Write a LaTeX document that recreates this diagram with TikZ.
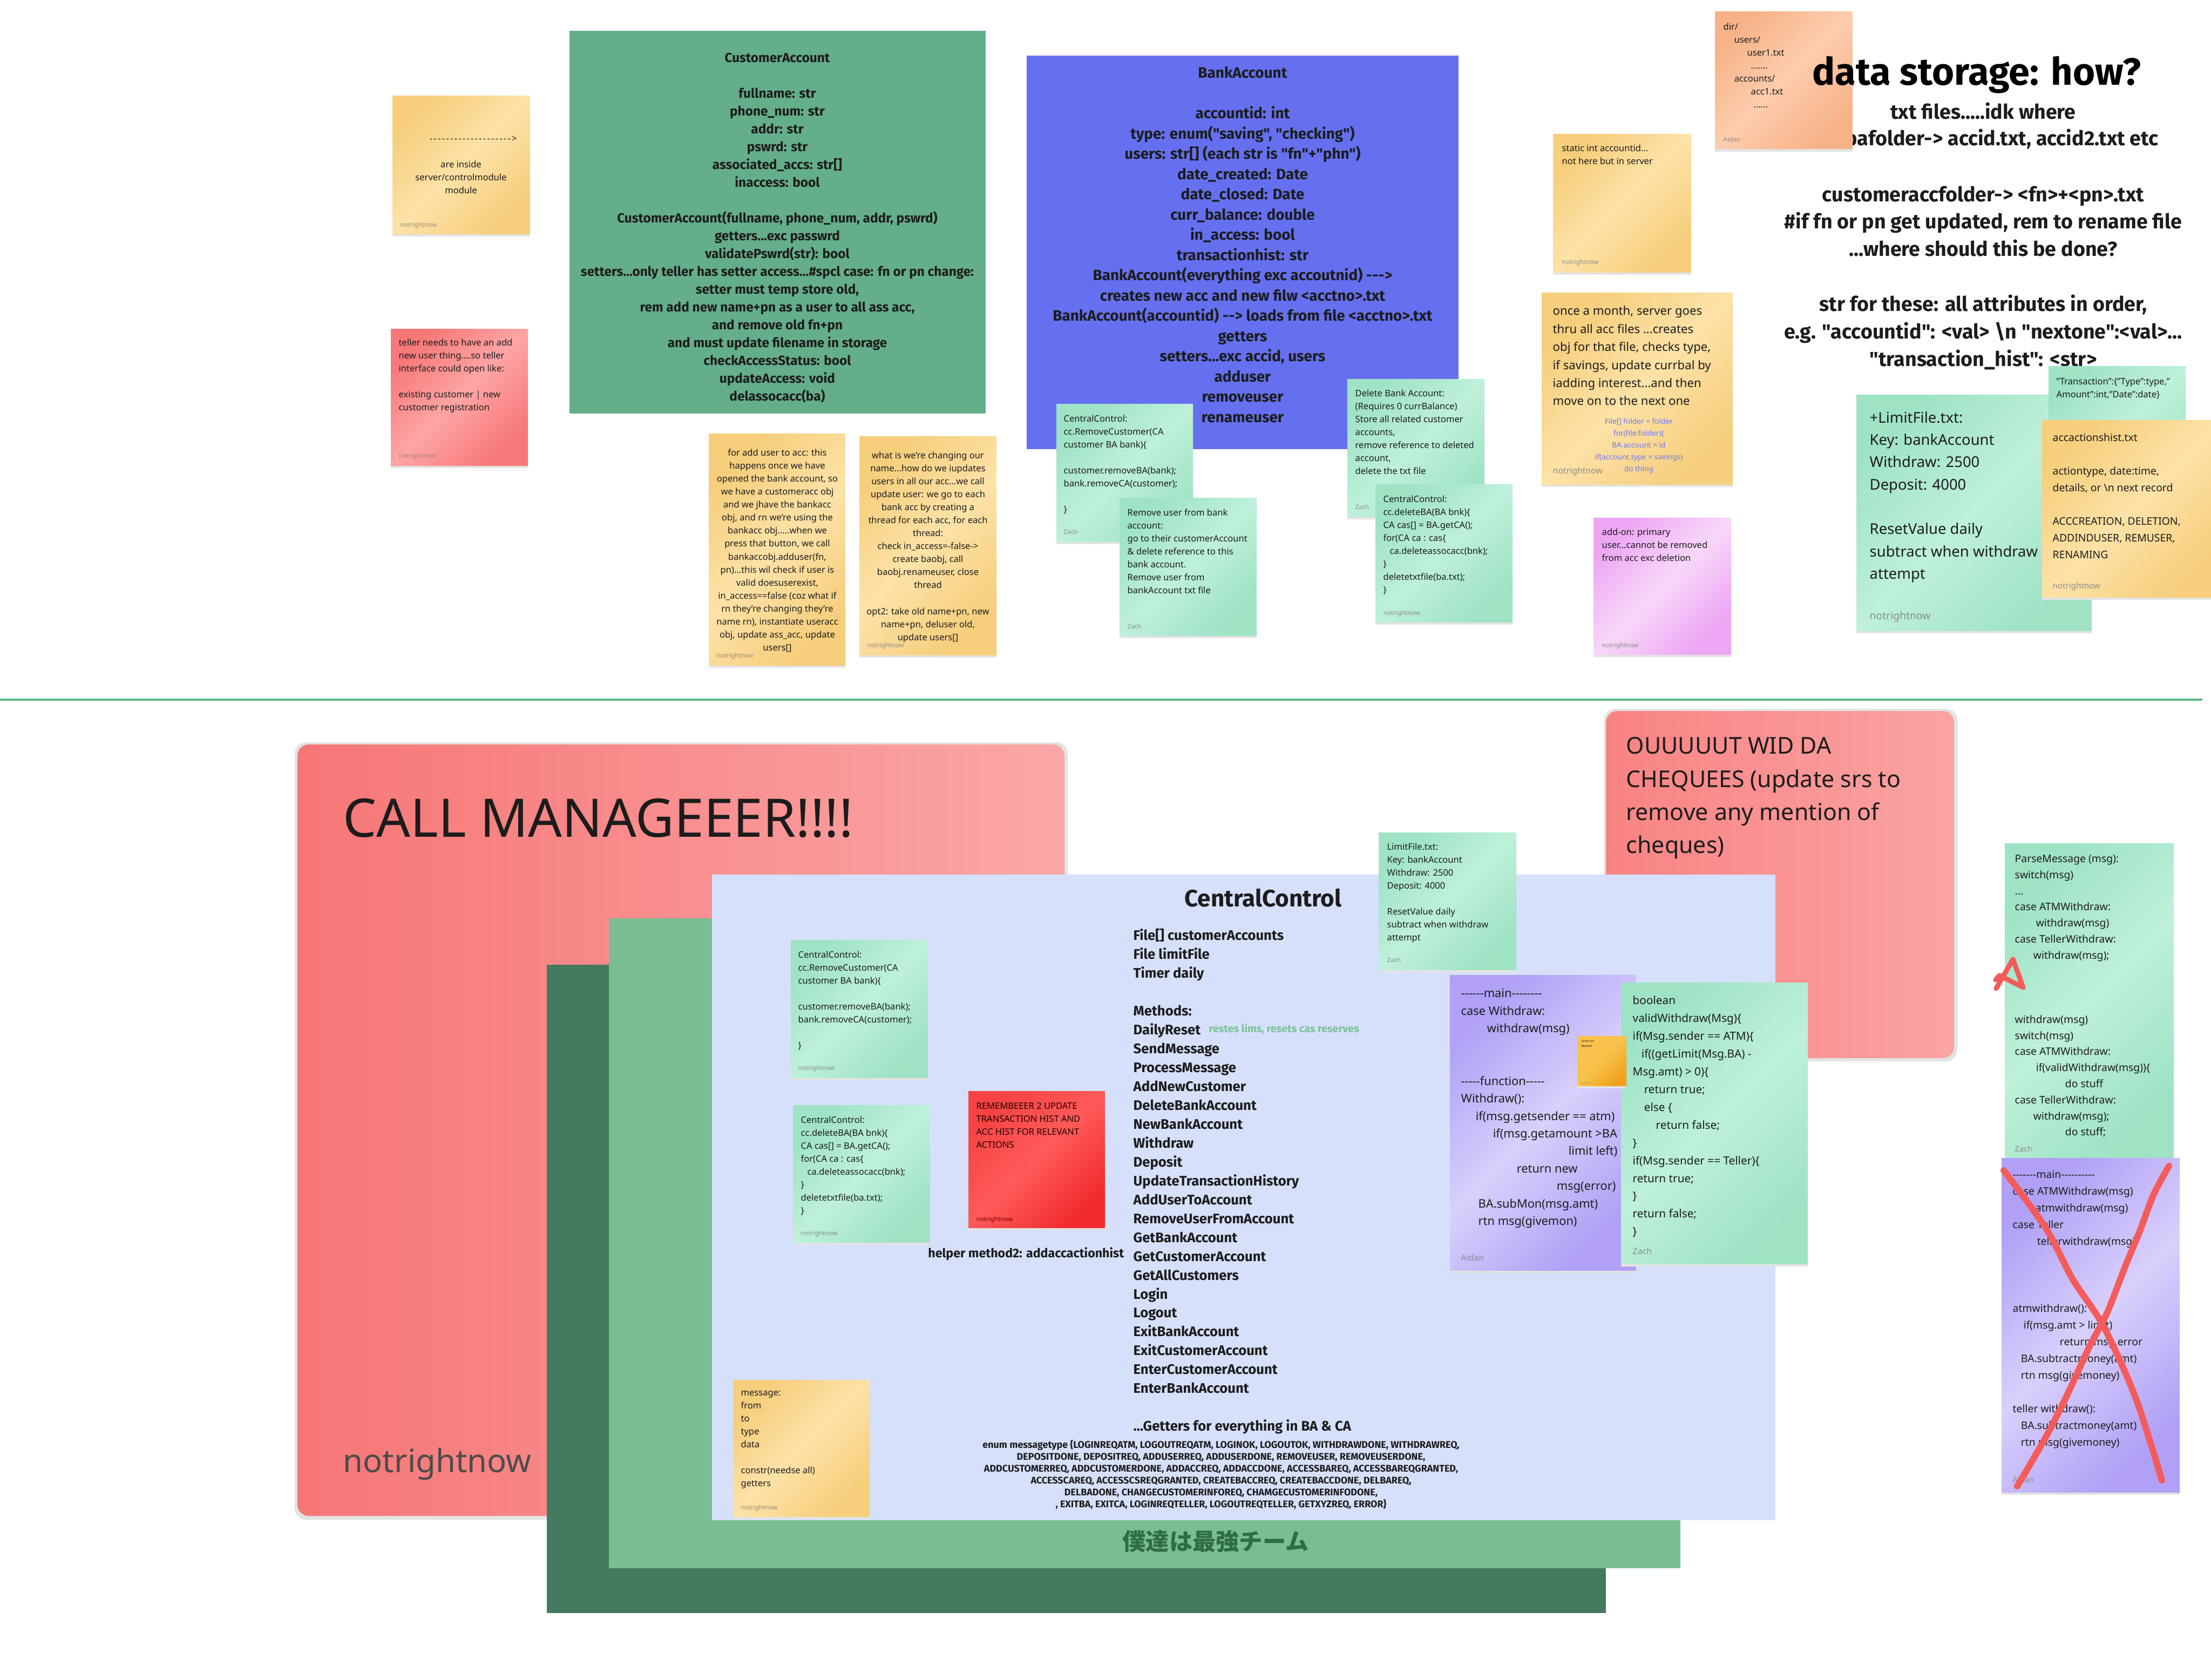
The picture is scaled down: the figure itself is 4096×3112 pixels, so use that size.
\documentclass[tikz,border=0pt]{standalone}
\usepackage{fontspec}
\setmainfont{Noto Sans}
\newfontfamily\hf{Fira Sans}
\newfontfamily\jp{Noto Sans CJK JP}
\usetikzlibrary{shadings}

\definecolor{ink}{HTML}{1C1C1C}
\definecolor{footgrey}{HTML}{8C8C8C}
\definecolor{caGreen}{HTML}{64AE8A}
\definecolor{baBlue}{HTML}{6570F0}
\definecolor{ccBlue}{HTML}{D6E0FB}
\definecolor{midGreen}{HTML}{7BBD92}
\definecolor{darkGreen}{HTML}{447A5E}
\definecolor{lineGreen}{HTML}{5DB886}
\definecolor{jpGreen}{HTML}{2F6D46}
\definecolor{noteShadow}{HTML}{E3E3E3}
\definecolor{codeBlue}{HTML}{6B78F2}
\definecolor{remGreen}{HTML}{7CC29A}
\definecolor{crossRed}{HTML}{F45B5B}
\definecolor{yelA}{HTML}{F6CE7C}\definecolor{yelB}{HTML}{FDE2A7}
\definecolor{grnA}{HTML}{9FE3C5}\definecolor{grnB}{HTML}{BEF0DA}
\definecolor{purA}{HTML}{B1A0F6}\definecolor{purB}{HTML}{D8D0FC}
\definecolor{pnkA}{HTML}{EDA6F3}\definecolor{pnkB}{HTML}{F8D7FA}
\definecolor{orgA}{HTML}{F7B288}\definecolor{orgB}{HTML}{FDCDAD}
\definecolor{redA}{HTML}{F77878}\definecolor{redB}{HTML}{FEA5A5}
\definecolor{hotA}{HTML}{F54343}\definecolor{hotB}{HTML}{FF5A5A}\definecolor{hotC}{HTML}{F22C2C}
\definecolor{ambA}{HTML}{F8C24C}\definecolor{ambB}{HTML}{F0A21E}
\definecolor{bigA}{HTML}{F77676}\definecolor{bigB}{HTML}{FBA7A7}
\definecolor{outA}{HTML}{F98383}\definecolor{outB}{HTML}{FBA3A3}

% diagonal sticky-note gradients: corner colour, centre colour, corner colour
\newcommand\triplesh[4]{\pgfdeclarehorizontalshading{#1}{100bp}{color(0bp)=(#2); color(25bp)=(#2); color(50bp)=(#3); color(75bp)=(#4); color(100bp)=(#4)}}
\triplesh{yelshade}{yelA}{yelB}{yelA}
\triplesh{grnshade}{grnA}{grnB}{grnA}
\triplesh{purshade}{purA}{purB}{purA}
\triplesh{pnkshade}{pnkA}{pnkB}{pnkA}
\triplesh{orgshade}{orgA}{orgB}{orgA}
\triplesh{redshade}{redA}{redB}{redA}
\triplesh{hotshade}{hotA}{hotB}{hotC}
\triplesh{ambshade}{ambA}{ambA}{ambB}

% a sticky note: x1, y1, x2, y2, shading
\newcommand\stickynote[5]{%
  \fill[noteShadow] (#1,#2+5) rectangle (#3,#4+5);
  \shade[shading=#5, shading angle=-45] (#1,#2) rectangle (#3,#4);}

% hyphen that never joins into a dash ligature
\newcommand\hh{-\kern0pt}
\newcommand\hhs[1]{\foreach\k in {1,...,#1}{\hh}}
% spaced hyphens for the hand-typed arrow
\newcommand\hhsp[1]{\foreach\k in {1,...,#1}{-\kern0.65pt}}

\tikzset{
  stx/.style={anchor=north west, inner sep=0pt, align=left, text=ink, yshift=-0.08cm,
    font=\fontsize{4.7}{6.83}\selectfont, execute at begin node=\strut},
  stc/.style={stx, anchor=north, align=center},
  hd/.style={anchor=north, inner sep=0pt, align=center, text=ink, yshift=-0.08cm, execute at begin node=\strut},
  ft/.style={anchor=base west, inner sep=0pt, text=footgrey, font=\fontsize{3.3}{4}\selectfont},
  bigft/.style={ft, font=\fontsize{4.5}{5}\selectfont},
  scrawl/.style={crossRed, line cap=round, line join=round},
}

\begin{document}
\begin{tikzpicture}[x=0.01cm, y=-0.01cm]
\useasboundingbox (0,0) rectangle (4096,3112);
\fill[white] (0,0) rectangle (4096,3112);

%================ upper board ================
\coordinate (divL) at (0,1296);
\coordinate (divR) at (4080,1296);
\draw[lineGreen, line width=0.9pt] (divL) -- (divR);

% left notes
\stickynote{727}{178}{982}{433}{yelshade}
\node[stc] (arrowtxt) at (854,243.5) {\hspace*{13pt}\hhsp{20}>\\~\\are inside\\server/controlmodule\\module};
\node[ft] (arrowft) at (741,420) {notrightnow};

\stickynote{724}{609}{978}{862}{redshade}
\node[stx] (tellertxt) at (738,619.5) {teller needs to have an add\\new user thing....so teller\\interface could open like:\\~\\existing customer | new\\customer registration};
\node[ft] (tellerft) at (738,848) {notrightnow};

% CustomerAccount class
\fill[caGreen] (1055,57) rectangle (1826,766);
\node[hd, font=\hf\bfseries\fontsize{6.93}{9.39}\selectfont] (custacc) at (1440,89) {CustomerAccount\\~\\fullname: str\\phone\_num: str\\addr: str\\pswrd: str\\associated\_accs: str[]\\inaccess: bool\\~\\CustomerAccount(fullname, phone\_num, addr, pswrd)\\getters...exc passwrd\\validatePswrd(str): bool\\setters...only teller has setter access...\#spcl case: fn or pn change:\\setter must temp store old,\\rem add new name+pn as a user to all ass acc,\\and remove old fn+pn\\and must update filename in storage\\checkAccessStatus: bool\\updateAccess: void\\delassocacc(ba)};

% BankAccount class
\fill[baBlue] (1902,103) rectangle (2702,832);
\node[hd, font=\hf\bfseries\fontsize{7.93}{10.67}\selectfont] (bankacc) at (2302,114.6) {BankAccount\\~\\accountid: int\\type: enum("saving", "checking")\\users: str[] (each str is "fn"+"phn")\\date\_created: Date\\date\_closed: Date\\curr\_balance: double\\in\_access: bool\\transactionhist: str\\BankAccount(everything exc accoutnid) \hhs{3}>\\creates new acc and new filw <acctno>.txt\\BankAccount(accountid) \hhs{2}> loads from file <acctno>.txt\\getters\\setters...exc accid, users\\adduser\\removeuser\\renameuser};

% notes under the classes
\stickynote{1313}{803}{1566}{1232}{yelshade}
\node[stc] (addusertxt) at (1440,823.5) {for add user to acc: this\\happens once we have\\opened the bank account, so\\we have a customeracc obj\\and we jhave the bankacc\\obj, and rn we're using the\\bankacc obj.....when we\\press that button, we call\\bankaccobj.adduser(fn,\\pn)...this wil check if user is\\valid doesuserexist,\\in\_access==false (coz what if\\rn they're changing they're\\name rn), instantiate useracc\\obj, update ass\_acc, update\\users[]};
\node[ft] (adduserft) at (1327,1218) {notrightnow};

\stickynote{1592}{808}{1846}{1213}{yelshade}
\node[stc] (renametxt) at (1719,828.5) {what is we're changing our\\name...how do we iupdates\\users in all our acc...we call\\update user: we go to each\\bank acc by creating a\\thread for each acc, for each\\thread:\\check in\_access=-false->\\create baobj, call\\baobj.renameuser, close\\thread\\~\\opt2: take old name+pn, new\\name+pn, deluser old,\\update users[]};
\node[ft] (renameft) at (1606,1199) {notrightnow};

\stickynote{1957}{748}{2210}{1003}{grnshade}
\node[stx] (remcust) at (1970,760.5) {CentralControl:\\cc.RemoveCustomer(CA\\customer BA bank)\{\\~\\customer.removeBA(bank);\\bank.removeCA(customer);\\~\\\}};
\node[ft] (remcustft) at (1970,989) {Zach};

\stickynote{2074}{922}{2328}{1177}{grnshade}
\node[stx] (remuser) at (2088,934.5) {Remove user from bank\\account:\\go to their customerAccount\\\& delete reference to this\\bank account.\\Remove user from\\bankAccount txt file};
\node[ft] (remuserft) at (2088,1164) {Zach};

\stickynote{2496}{702}{2750}{957}{grnshade}
\node[stx] (delbank) at (2510,713.5) {Delete Bank Account:\\(Requires 0 currBalance)\\Store all related customer\\accounts,\\remove reference to deleted\\account,\\delete the txt file};
\node[ft] (delbankft) at (2510,943) {Zach};

\stickynote{2548}{897}{2802}{1152}{grnshade}
\node[stx] (delba) at (2562,909.5) {CentralControl:\\cc.deleteBA(BA bnk)\{\\CA cas[] = BA.getCA();\\for(CA ca : cas\{\\\hspace*{3.4pt}ca.deleteassocacc(bnk);\\\}\\deletetxtfile(ba.txt);\\\}};
\node[ft] (delbaft) at (2562,1139) {notrightnow};

\stickynote{2877}{249}{3133}{504}{yelshade}
\node[stx] (staticid) at (2893,259.5) {static int accountid...\\not here but in server};
\node[ft] (staticidft) at (2893,489) {notrightnow};

\stickynote{2856}{542}{3210}{897}{yelshade}
\node[stx, font=\fontsize{6.3}{9.5}\selectfont] (monthly) at (2876,558.4) {once a month, server goes\\thru all acc files ...creates\\obj for that file, checks type,\\if savings, update currbal by\\iadding interest...and then\\move on to the next one};
\node[hd, text=codeBlue, font=\bfseries\fontsize{3.9}{6.26}\selectfont] (monthcode) at (3036,766) {File[] folder = folder\\for(file:folder)\{\\BA account = id\\if(account.type = savings)\\do thing};
\node[bigft] (monthlyft) at (2876,877) {notrightnow};

\stickynote{2952}{959}{3207}{1212}{pnkshade}
\node[stx] (addon) at (2967,970.5) {add-on: primary\\user...cannot be removed\\from acc exc deletion};
\node[ft] (addonft) at (2967,1199) {notrightnow};

% storage notes
\node[hd, font=\hf\bfseries\fontsize{10.7}{14.45}\selectfont] (storage) at (3674,181.5) {txt files.....idk where\\~\\~\\customeraccfolder-> <fn>+<pn>.txt\\\#if fn or pn get updated, rem to rename file\\...where should this be done?\\~\\str for these: all attributes in order,\\e.g. "accountid": <val> \textbackslash n "nextone":<val>...\\"transaction\_hist": <str>};
\node[anchor=base east, inner sep=0pt, text=ink, font=\hf\bfseries\fontsize{10.7}{14.45}\selectfont] (bafolder) at (3999,270) {bafolder-> accid.txt, accid2.txt etc};

\stickynote{3177}{22}{3432}{276}{orgshade}
\node[stx] (dirtree) at (3192,34.5) {dir/\\\hspace*{5.7pt}users/\\\hspace*{12.5pt}user1.txt\\\hspace*{14.5pt}.......\\\hspace*{5.7pt}accounts/\\\hspace*{14.5pt}acc1.txt\\\hspace*{15.9pt}......};
\node[ft] (dirft) at (3192,262) {Aidan};

\node[anchor=base, inner sep=0pt, text=black, font=\hf\bfseries\fontsize{20}{24}\selectfont] (storetitle) at (3662,158) {data storage: how?};

\stickynote{3439}{731}{3875}{1168}{grnshade}
\node[stx, font=\fontsize{7.8}{11.75}\selectfont] (limitbig) at (3463,753.7) {+LimitFile.txt:\\Key: bankAccount\\Withdraw: 2500\\Deposit: 4000\\~\\ResetValue daily\\subtract when withdraw\\attempt};
\node[ft, font=\fontsize{5.5}{6}\selectfont] (limitbigft) at (3463,1147) {notrightnow};

\stickynote{3795}{678}{4049}{932}{grnshade}
\node[stx] (transfmt) at (3809,691.5) {"Transaction":\{"Type":type,"\\Amount":int,"Date":date\}};

\stickynote{3783}{778}{4120}{1106}{yelshade}
\node[stx, font=\fontsize{5.5}{8.82}\selectfont] (acthist) at (3802,794.3) {accactionshist.txt\\~\\actiontype, date:time,\\details, or \textbackslash n next record\\~\\ACCCREATION, DELETION,\\ADDINDUSER, REMUSER,\\RENAMING};
\node[ft, font=\fontsize{4.3}{5}\selectfont] (acthistft) at (3802,1090) {notrightnow};

%================ lower board ================
\fill[noteShadow, rounded corners=6pt] (546,1375) rectangle (1978,2815);
\shade[left color=bigA, right color=bigB, rounded corners=6pt] (551,1379) rectangle (1972,2808);
\node[anchor=base west, inner sep=0pt, text=ink, font=\fontsize{28}{32}\selectfont] (callmgr) at (635,1550) {CALL MANAGEEER!!!!};
\node[anchor=base west, inner sep=0pt, text=black!70, font=\fontsize{17}{20}\selectfont] (callft) at (635,2727) {notrightnow};

\fill[noteShadow, rounded corners=6pt] (2971,1313) rectangle (3626,1966);
\shade[left color=outA, right color=outB, rounded corners=6pt] (2975,1317) rectangle (3620,1960);
\node[stx, font=\fontsize{12.2}{17.4}\selectfont] (cheques) at (3012,1357) {OUUUUUT WID DA\\CHEQUEES (update srs to\\remove any mention of\\cheques)};

\fill[darkGreen] (1013,1787) rectangle (2975,2988);
\fill[midGreen] (1128,1701) rectangle (3113,2905);
\node[text=jpGreen, inner sep=0pt, font=\jp\bfseries\fontsize{12.3}{14}\selectfont] (team) at (2252,2855) {僕達は最強チーム};
\fill[ccBlue] (1319,1620) rectangle (3289,2816);

\node[inner sep=0pt, text=ink, font=\hf\bfseries\fontsize{12.5}{15}\selectfont] (cctitle) at (2340,1663) {CentralControl};
\node[stx, font=\hf\bfseries\fontsize{7.3}{9.94}\selectfont] (ccmembers) at (2099,1712) {File[] customerAccounts\\File limitFile\\Timer daily\\~\\Methods:\\DailyReset\\SendMessage\\ProcessMessage\\AddNewCustomer\\DeleteBankAccount\\NewBankAccount\\Withdraw\\Deposit\\UpdateTransactionHistory\\AddUserToAccount\\RemoveUserFromAccount\\GetBankAccount\\GetCustomerAccount\\GetAllCustomers\\Login\\Logout\\ExitBankAccount\\ExitCustomerAccount\\EnterCustomerAccount\\EnterBankAccount\\~\\...Getters for everything in BA \& CA};
\node[anchor=base west, inner sep=0pt, text=remGreen, font=\hf\bfseries\fontsize{5.6}{7}\selectfont] (dailynote) at (2239,1912) {restes lims, resets cas reserves};
\node[anchor=base east, inner sep=0pt, text=ink, font=\hf\bfseries\fontsize{6.6}{8}\selectfont] (helper) at (2083,2329) {helper method2: addaccactionhist};
\node[hd, font=\hf\bfseries\fontsize{5.1}{6.26}\selectfont] (msgenum) at (2262,2659) {enum messagetype \{LOGINREQATM, LOGOUTREQATM, LOGINOK, LOGOUTOK, WITHDRAWDONE, WITHDRAWREQ,\\DEPOSITDONE, DEPOSITREQ, ADDUSERREQ, ADDUSERDONE, REMOVEUSER, REMOVEUSERDONE,\\ADDCUSTOMERREQ, ADDCUSTOMERDONE, ADDACCREQ, ADDACCDONE, ACCESSBAREQ, ACCESSBAREQGRANTED,\\ACCESSCAREQ, ACCESSCSREQGRANTED, CREATEBACCREQ, CREATEBACCDONE, DELBAREQ,\\DELBADONE, CHANGECUSTOMERINFOREQ, CHAMGECUSTOMERINFODONE,\\, EXITBA, EXITCA, LOGINREQTELLER, LOGOUTREQTELLER, GETXYZREQ, ERROR\}};

\stickynote{1465}{1741}{1719}{1996}{grnshade}
\node[stx] (remcust2) at (1478,1753.5) {CentralControl:\\cc.RemoveCustomer(CA\\customer BA bank)\{\\~\\customer.removeBA(bank);\\bank.removeCA(customer);\\~\\\}};
\node[ft] (remcust2ft) at (1478,1982) {notrightnow};

\stickynote{1469}{2047}{1723}{2301}{grnshade}
\node[stx] (delba2) at (1483,2059.5) {CentralControl:\\cc.deleteBA(BA bnk)\{\\CA cas[] = BA.getCA();\\for(CA ca : cas\{\\\hspace*{3.4pt}ca.deleteassocacc(bnk);\\\}\\deletetxtfile(ba.txt);\\\}};
\node[ft] (delba2ft) at (1483,2288) {notrightnow};

\stickynote{1794}{2021}{2047}{2274}{hotshade}
\node[stx, text=black!85!red] (remember) at (1808,2033.5) {REMEMBEEER 2 UPDATE\\TRANSACTION HIST AND\\ACC HIST FOR RELEVANT\\ACTIONS};
\node[ft, text=red!45!black] (rememberft) at (1808,2262) {notrightnow};

\stickynote{1358}{2556}{1611}{2809}{yelshade}
\node[stx] (msgfields) at (1372,2567.5) {message:\\from\\to\\type\\data\\~\\constr(needse all)\\getters};
\node[ft] (msgfieldsft) at (1372,2796) {notrightnow};

\stickynote{2554}{1542}{2809}{1796}{grnshade}
\node[stx] (limitsmall) at (2569,1553.5) {LimitFile.txt:\\Key: bankAccount\\Withdraw: 2500\\Deposit: 4000\\~\\ResetValue daily\\subtract when withdraw\\attempt};
\node[ft] (limitsmallft) at (2569,1782) {Zach};

\stickynote{2686}{1806}{3031}{2353}{purshade}
\node[stx, font=\fontsize{6.2}{9.23}\selectfont] (mainwd) at (2706,1823) {\hhs{6}main\hhs{8}\\case Withdraw:\\\hspace*{13.7pt}withdraw(msg)\\~\\~\\\hhs{5}function\hhs{5}\\Withdraw():\\\hspace*{7.7pt}if(msg.getsender == atm)\\\hspace*{16.8pt}if(msg.getamount >BA\\\hspace*{56.6pt}limit left)\\\hspace*{29.3pt}return new\\\hspace*{50.4pt}msg(error)\\\hspace*{9.1pt}BA.subMon(msg.amt)\\\hspace*{9.1pt}rtn msg(givemon)};
\node[bigft] (mainwdft) at (2706,2335) {Aidan};

\stickynote{3003}{1820}{3349}{2341}{grnshade}
\node[stx, font=\fontsize{5.9}{9.36}\selectfont] (validwd) at (3024,1836.4) {boolean\\validWithdraw(Msg)\{\\if(Msg.sender == ATM)\{\\\hspace*{4.6pt}if((getLimit(Msg.BA) -\\Msg.amt) > 0)\{\\\hspace*{6pt}return true;\\\hspace*{6pt}else \{\\\hspace*{12.2pt}return false;\\\}\\if(Msg.sender == Teller)\{\\return true;\\\}\\return false;\\\}};
\node[bigft] (validwdft) at (3024,2323) {Zach};

\stickynote{2922}{1919}{3013}{2011}{ambshade}
\node[stx, font=\fontsize{1.6}{2.6}\selectfont, yshift=0.06cm] (samedep) at (2929,1923) {same for\\deposit};
\node[ft, font=\fontsize{1}{1.2}\selectfont, text=black!50] (samedepft) at (2927,2007) {notrightnow};

\stickynote{3714}{1562}{4027}{2145}{grnshade}
\node[stx, font=\fontsize{5.5}{8.47}\selectfont] (parsemsg) at (3732,1575) {ParseMessage (msg):\\switch(msg)\\...\\case ATMWithdraw:\\\hspace*{11.1pt}withdraw(msg)\\case TellerWithdraw:\\\hspace*{9.7pt}withdraw(msg);\\~\\~\\~\\withdraw(msg)\\switch(msg)\\case ATMWithdraw:\\\hspace*{11.1pt}if(validWithdraw(msg))\{\\\hspace*{26.5pt}do stuff\\case TellerWithdraw:\\\hspace*{9.7pt}withdraw(msg);\\\hspace*{26.5pt}do stuff;};
\node[ft, font=\fontsize{4.2}{5}\selectfont] (parsemsgft) at (3732,2133) {Zach};

\stickynote{3708}{2145}{4038}{2764}{purshade}
\node[stx, font=\fontsize{5.5}{8.82}\selectfont] (oldmain) at (3728,2159.2) {\hhs{7}main\hhs{10}\\case ATMWithdraw(msg)\\\hspace*{12pt}atmwithdraw(msg)\\case Teller\\\hspace*{12.8pt}tellerwithdraw(msg)\\~\\~\\~\\atmwithdraw():\\\hspace*{5.7pt}if(msg.amt > limit)\\\hspace*{24.8pt}return msg.error\\\hspace*{4.3pt}BA.subtractmoney(amt)\\\hspace*{4.3pt}rtn msg(givemoney)\\~\\teller withdraw():\\\hspace*{4.3pt}BA.subtractmoney(amt)\\\hspace*{4.3pt}rtn msg(givemoney)};
\node[ft, font=\fontsize{4.2}{5}\selectfont] (oldmainft) at (3728,2746) {Aidan};

% red pen marks
\draw[scrawl, line width=3.4pt] plot[smooth] coordinates {(3712,2168) (3790,2275) (3840,2370) (3897,2457) (3957,2591) (4005,2742)};
\draw[scrawl, line width=3.4pt] plot[smooth] coordinates {(4018,2160) (3990,2212) (3963,2283) (3937,2346) (3903,2433) (3870,2496) (3830,2583) (3790,2662) (3737,2753)};
\draw[scrawl, line width=2.6pt] (3698,1831) -- (3729,1777) -- (3748,1829) -- (3704,1807) -- (3697,1815);
\end{tikzpicture}
\end{document}
